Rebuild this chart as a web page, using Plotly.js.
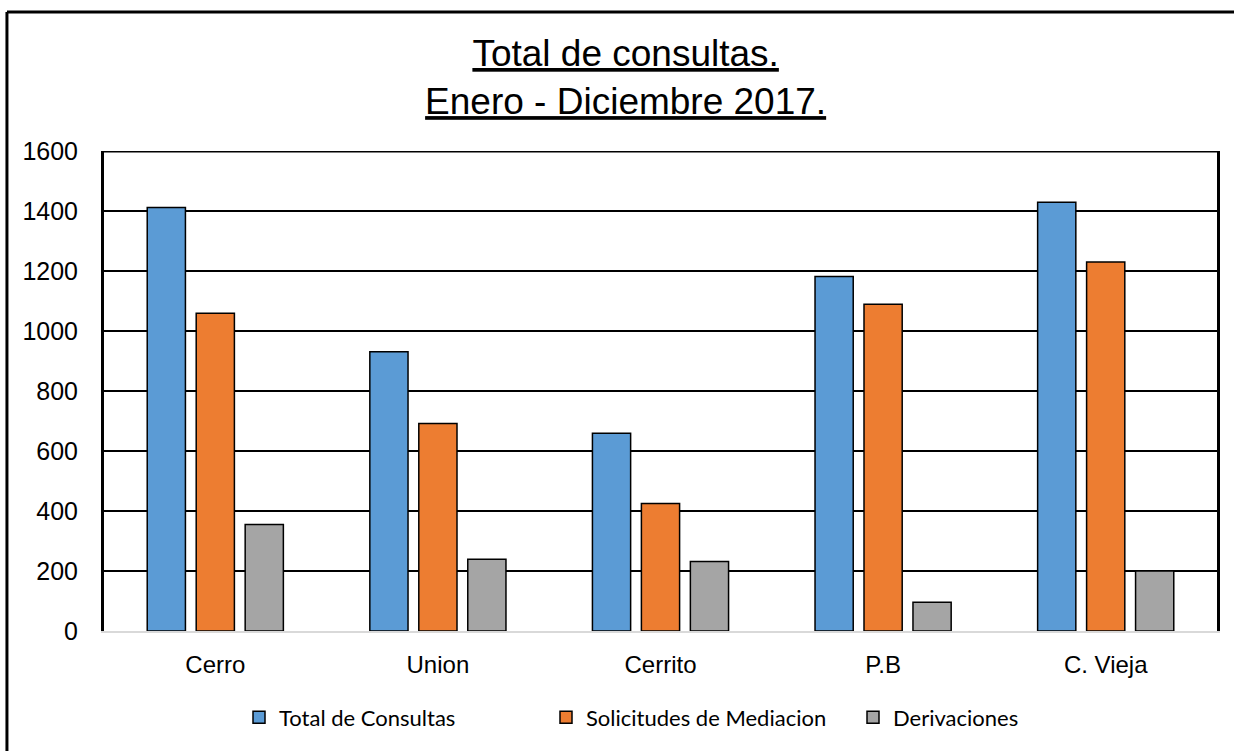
<!DOCTYPE html>
<html>
<head>
<meta charset="utf-8">
<script src="https://cdn.plot.ly/plotly-3.0.1.min.js"></script>
<style>html,body{margin:0;padding:0;background:#fff;}#chart{width:1234px;height:751px;}</style>
</head>
<body>
<div id="chart"></div>
<script>
const categories = ["Cerro", "Union", "Cerrito", "P.B", "C. Vieja"];
const totalConsultas = [1412, 931, 659, 1182, 1429];
const solicitudesMediacion = [1059, 692, 425, 1089, 1230];
const derivaciones = [355, 239, 232, 96, 200];
const seriesNames = ["Total de Consultas", "Solicitudes de Mediacion", "Derivaciones"];
const yTicks = [0, 200, 400, 600, 800, 1000, 1200, 1400, 1600];

const colors = ["#5B9BD5", "#ED7D31", "#A5A5A5"];
const seriesValues = [totalConsultas, solicitudesMediacion, derivaciones];

const traces = seriesValues.map((vals, i) => ({
  type: "bar",
  name: seriesNames[i],
  x: categories,
  y: vals,
  marker: {color: colors[i], line: {color: "#000", width: 1.5}}
}));

const layout = {
  width: 1234, height: 751,
  paper_bgcolor: "#fff", plot_bgcolor: "#fff",
  margin: {l: 104, r: 17, t: 151, b: 120, pad: 0},
  barmode: "group",
  bargap: 0.34,
  bargroupgap: 0.22,
  title: {
    text: "<u>Total de consultas.</u><br><u>Enero - Diciembre 2017.</u>",
    font: {family: "Liberation Sans, Arial, sans-serif", size: 37, color: "#000"},
    x: 0.507, xanchor: "center",
    y: 1 - 66/751, yanchor: "top", yref: "container"
  },
  xaxis: {
    type: "category",
    showgrid: false,
    showline: true, linecolor: "#d9d9d9", linewidth: 2,
    ticks: "outside", ticklen: 11, tickcolor: "rgba(0,0,0,0)",
    tickfont: {family: "Liberation Sans, Arial, sans-serif", size: 24, color: "#000"},
    zeroline: false
  },
  yaxis: {
    range: [0, 1600],
    tickvals: yTicks,
    ticktext: yTicks.map(String),
    showgrid: true, gridcolor: "#000", gridwidth: 2,
    showline: true, mirror: true, linecolor: "#000", linewidth: 3,
    ticks: "outside", ticklen: 18, tickcolor: "rgba(0,0,0,0)",
    tickfont: {family: "Liberation Sans, Arial, sans-serif", size: 25, color: "#000"},
    zeroline: false
  },
  legend: {
    orientation: "h",
    x: (239 - 104) / 1113, xanchor: "left",
    y: -0.18, yanchor: "middle",
    font: {family: "Lato, Carlito, sans-serif", size: 22, color: "#000"},
    itemwidth: 30,
    entrywidth: 262, entrywidthmode: "pixels",
    traceorder: "normal"
  },
  shapes: [
    {type: "line", xref: "paper", yref: "y", x0: 0, x1: 1, y0: 1600, y1: 1600, line: {color: "#000", width: 3}},
    {type: "line", xref: "paper", yref: "paper", x0: -0.0872, x1: 1.05, y0: (631-12)/480, y1: (631-12)/480, line: {color: "#000", width: 3}},
    {type: "line", xref: "paper", yref: "paper", x0: -0.0872, x1: -0.0872, y0: (631-12)/480, y1: -0.3, line: {color: "#000", width: 3}}
  ],
  showlegend: true
};

Plotly.newPlot("chart", traces, layout, {displayModeBar: false, staticPlot: true});
</script>
</body>
</html>
